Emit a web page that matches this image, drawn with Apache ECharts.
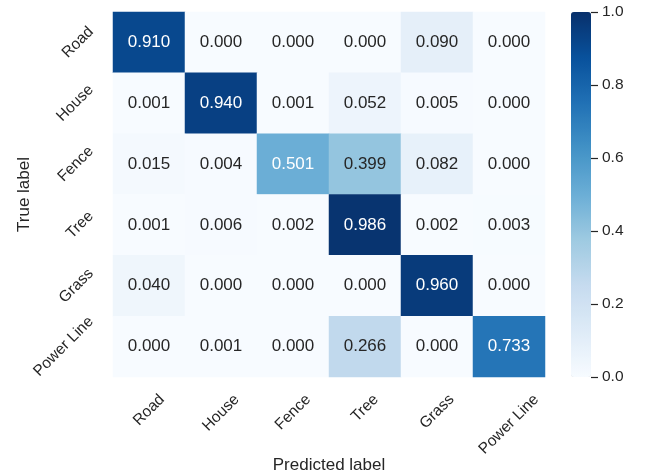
<!DOCTYPE html>
<html>
<head>
<meta charset="utf-8">
<script src="https://cdn.jsdelivr.net/npm/echarts@6/dist/echarts.min.js"></script>
<style>
  html, body { margin: 0; padding: 0; background: #fff; }
  #chart { width: 646px; height: 475px; }
</style>
</head>
<body>
<div id="chart"></div>
<script>
// Class names, shared by both axes
const classes = ['Road', 'House', 'Fence', 'Tree', 'Grass', 'Power Line'];

// Normalised confusion matrix, one row per true class
const rowRoad      = [0.910, 0.000, 0.000, 0.000, 0.090, 0.000];
const rowHouse     = [0.001, 0.940, 0.001, 0.052, 0.005, 0.000];
const rowFence     = [0.015, 0.004, 0.501, 0.399, 0.082, 0.000];
const rowTree      = [0.001, 0.006, 0.002, 0.986, 0.002, 0.003];
const rowGrass     = [0.040, 0.000, 0.000, 0.000, 0.960, 0.000];
const rowPowerLine = [0.000, 0.001, 0.000, 0.266, 0.000, 0.733];

// Colour bar tick values
const barTicks = [0.0, 0.2, 0.4, 0.6, 0.8, 1.0];

const matrix = [rowRoad, rowHouse, rowFence, rowTree, rowGrass, rowPowerLine];

// Blues colour map
const blues = ['#f7fbff', '#deebf7', '#c6dbef', '#9ecae1', '#6baed6',
               '#4292c6', '#2171b5', '#08519c', '#08306b'];

const FONT = '"Liberation Sans", Arial, sans-serif';
const TEXT = '#262626';
const TICK_SIZE = 15.5;
const CELL_SIZE = 17;

// heatmap cells: [predicted, true, value]
const cells = [];
matrix.forEach((row, t) => row.forEach((v, p) => cells.push([p, t, v])));

const chart = echarts.init(document.getElementById('chart'), null, { renderer: 'canvas' });

const hiddenCategoryAxis = {
  type: 'category', gridIndex: 0, data: classes,
  nameLocation: 'middle', nameMoveOverlap: false,
  nameTextStyle: { fontSize: CELL_SIZE, color: TEXT, fontFamily: FONT },
  axisLine: { show: false }, axisTick: { show: false }, splitLine: { show: false },
  axisLabel: { show: false }
};

chart.setOption({
  backgroundColor: '#fff',
  animation: false,
  textStyle: { fontFamily: FONT },
  grid: [
    { left: 113, top: 12, width: 432, height: 365, containLabel: false, outerBoundsMode: 'none' },
    { left: 571, top: 12, width: 20, height: 365, containLabel: false, outerBoundsMode: 'none' }
  ],
  xAxis: [
    Object.assign({}, hiddenCategoryAxis, { name: 'Predicted label', nameGap: 80 }),
    { type: 'value', gridIndex: 1, show: false, min: 0, max: 1 }
  ],
  yAxis: [
    Object.assign({}, hiddenCategoryAxis, { inverse: true, name: 'True label', nameGap: 80 }),
    {
      type: 'value', gridIndex: 1, position: 'right', min: 0, max: 1, interval: 0.2,
      axisLine: { show: false }, axisTick: { show: false }, splitLine: { show: false },
      axisLabel: { margin: 11, fontSize: TICK_SIZE, color: TEXT, fontFamily: FONT,
                   formatter: v => barTicks.includes(+v.toFixed(1)) ? v.toFixed(1) : '' }
    }
  ],
  visualMap: {
    type: 'continuous', min: 0, max: 1, seriesIndex: 0, z: 1,
    calculable: false, realtime: false, hoverLink: false,
    orient: 'vertical', left: 571, top: 12, padding: 0,
    itemWidth: 20, itemHeight: 365, text: null, showLabel: false,
    inRange: { color: blues }
  },
  series: [
    {
      type: 'heatmap', xAxisIndex: 0, yAxisIndex: 0, data: cells,
      label: {
        show: true, fontSize: CELL_SIZE, fontFamily: FONT,
        formatter: p => (p.value[2] > 0.45 ? '{w|' : '{d|') + p.value[2].toFixed(3) + '}',
        rich: {
          w: { color: '#ffffff', fontSize: CELL_SIZE, fontFamily: FONT },
          d: { color: TEXT, fontSize: CELL_SIZE, fontFamily: FONT }
        }
      },
      itemStyle: { borderWidth: 0 },
      emphasis: { disabled: true }
    },
    { type: 'line', xAxisIndex: 1, yAxisIndex: 1, data: [], silent: true }
  ]
});

// Rotated tick labels: each label's rotated box is centred on its tick
// (x axis) or vertically centred on its row (y axis), like 45° matplotlib ticks.
const measure = document.createElement('canvas').getContext('2d');
measure.font = TICK_SIZE + 'px ' + FONT;
const lineH = 17;
const diag = s => (measure.measureText(s).width + lineH) / (2 * Math.SQRT2);

const xPix = i => chart.convertToPixel({ xAxisIndex: 0 }, i);
const yPix = i => chart.convertToPixel({ yAxisIndex: 0 }, i);
const band = yPix(1) - yPix(0);
const plotBottom = yPix(classes.length - 1) + band / 2;
const plotLeft = xPix(0) - (xPix(1) - xPix(0)) / 2;

const tickLabel = (s, x, y) => ({
  type: 'text', x: x, y: y, rotation: Math.PI / 4, silent: true,
  style: { text: s, fill: TEXT, font: TICK_SIZE + 'px ' + FONT,
           align: 'center', verticalAlign: 'middle' }
});

const overlay = [];
classes.forEach((c, i) => {
  overlay.push(tickLabel(c, xPix(i), plotBottom + 14 + diag(c)));
  overlay.push(tickLabel(c, plotLeft - 16 - diag(c), yPix(i)));
});

// Colour bar tick marks on the right edge of the bar, placed by the bar's value axis
const barRight = chart.convertToPixel({ xAxisIndex: 1 }, 1);
barTicks.forEach(v => {
  const y = Math.round(chart.convertToPixel({ yAxisIndex: 1 }, v)) + 0.5;
  overlay.push({
    type: 'line', silent: true, z: 10,
    shape: { x1: barRight, y1: y, x2: barRight + 7, y2: y },
    style: { stroke: TEXT, lineWidth: 1.2 }
  });
});

chart.setOption({ graphic: overlay });
</script>
</body>
</html>
